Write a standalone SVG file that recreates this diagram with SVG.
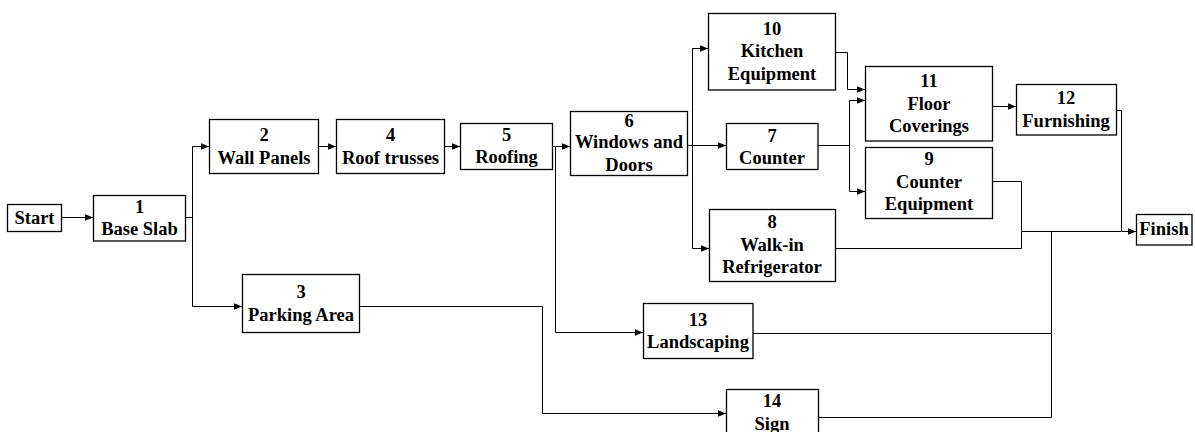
<svg xmlns="http://www.w3.org/2000/svg" width="1195" height="432" viewBox="0 0 1195 432">
<style>
.box{fill:#fff;stroke:#000;stroke-width:1.3}
text{font-family:'Liberation Serif','Times New Roman','DejaVu Serif',serif;font-weight:700;font-size:18.5px;fill:#000;text-anchor:middle}
.c{fill:none;stroke:#000;stroke-width:1}
.a{marker-end:url(#arr)}
</style>
<defs>
<marker id="arr" markerUnits="userSpaceOnUse" markerWidth="9" markerHeight="8" refX="8.5" refY="4" orient="auto">
<path d="M0,0.5 L8.5,4 L0,7.5 z" fill="#000"/>
</marker>
</defs>
<g id="connectors">
<path class="c a" d="M62,217.5 H93"/>
<path class="c a" d="M186,217.5 H192.5 V146.5 H209"/>
<path class="c a" d="M192.5,217.5 V306.5 H242"/>
<path class="c a" d="M318,146.5 H336"/>
<path class="c a" d="M444,146.5 H460"/>
<path class="c a" d="M552,146.5 H570"/>
<path class="c a" d="M555.5,146.5 V332.5 H643"/>
<path class="c a" d="M687,145.5 H692.5 V48.5 H708"/>
<path class="c a" d="M687,145.5 H726"/>
<path class="c a" d="M692.5,145.5 V248.5 H709"/>
<path class="c a" d="M835,52.5 H847.5 V89.5 H865"/>
<path class="c a" d="M818,145.5 H849.5 V100.5 H865"/>
<path class="c a" d="M849.5,145.5 V191.5 H865"/>
<path class="c a" d="M992,106.5 H1016"/>
<path class="c a" d="M1116,110.5 H1121.5 V231.5 H1136"/>
<path class="c" d="M992,181.5 H1021.5 V231.5 H1121.5"/>
<path class="c" d="M835,248.5 H1021.5 V231.5"/>
<path class="c a" d="M359,306.5 H542.5 V413.5 H726"/>
<path class="c" d="M753,333.5 H1051.5 V231.5"/>
<path class="c" d="M818,417.5 H1051.5 V333.5"/>
</g>
<g id="start"><rect class="box" x="7.5" y="204.5" width="54" height="27"/><text x="34.5" y="224.3">Start</text></g>
<g id="n1"><rect class="box" x="93.5" y="195.5" width="92" height="45.5"/><text x="139.5" y="212.5">1</text><text x="139.5" y="235">Base Slab</text></g>
<g id="n2"><rect class="box" x="209.5" y="119.5" width="109" height="54"/><text x="264" y="140.7">2</text><text x="264" y="164">Wall Panels</text></g>
<g id="n4"><rect class="box" x="336.5" y="119.5" width="108" height="54"/><text x="390.5" y="140.7">4</text><text x="390.5" y="164">Roof trusses</text></g>
<g id="n5"><rect class="box" x="460.5" y="123.5" width="92" height="46"/><text x="506.5" y="140.7">5</text><text x="506.5" y="163.3">Roofing</text></g>
<g id="n6"><rect class="box" x="570.5" y="111.5" width="117" height="64"/><text x="629" y="126.7">6</text><text x="629" y="148.3">Windows and</text><text x="629" y="171">Doors</text></g>
<g id="n10"><rect class="box" x="708.5" y="13.5" width="127" height="76.5"/><text x="772" y="35">10</text><text x="772" y="57.3">Kitchen</text><text x="772" y="80">Equipment</text></g>
<g id="n7"><rect class="box" x="726.5" y="123.5" width="91.5" height="46"/><text x="772" y="141.7">7</text><text x="772" y="164">Counter</text></g>
<g id="n8"><rect class="box" x="709.5" y="209.5" width="126" height="72"/><text x="772" y="228.3">8</text><text x="772" y="250.7">Walk-in</text><text x="772" y="273.3">Refrigerator</text></g>
<g id="n11"><rect class="box" x="865.5" y="66.5" width="127" height="74.5"/><text x="929" y="86.7">11</text><text x="929" y="110">Floor</text><text x="929" y="131.7">Coverings</text></g>
<g id="n9"><rect class="box" x="865.5" y="147.5" width="127" height="71"/><text x="929" y="165">9</text><text x="929" y="187.7">Counter</text><text x="929" y="210">Equipment</text></g>
<g id="n12"><rect class="box" x="1016.5" y="84.5" width="100" height="50.5"/><text x="1066" y="104">12</text><text x="1066" y="126.7">Furnishing</text></g>
<g id="finish"><rect class="box" x="1136.5" y="214.5" width="55.5" height="30.5"/><text x="1164" y="235">Finish</text></g>
<g id="n3"><rect class="box" x="242.5" y="274.5" width="117" height="58"/><text x="301" y="298.3">3</text><text x="301" y="320.7">Parking Area</text></g>
<g id="n13"><rect class="box" x="643.5" y="303.5" width="109.5" height="55"/><text x="698" y="326">13</text><text x="698" y="348.3">Landscaping</text></g>
<g id="n14"><rect class="box" x="726.5" y="389.5" width="92" height="50"/><text x="772" y="407.3">14</text><text x="772" y="430">Sign</text></g>
</svg>
